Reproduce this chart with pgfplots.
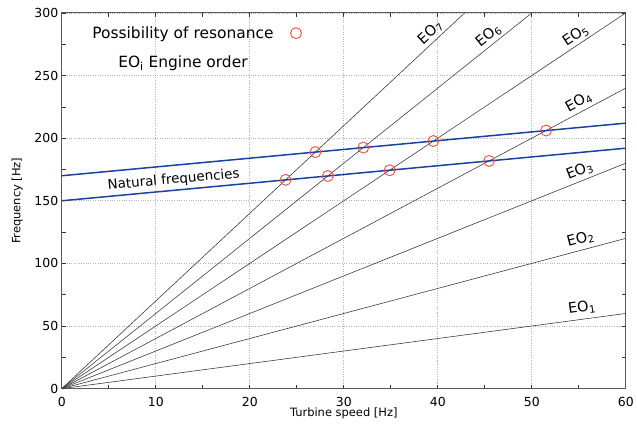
\documentclass[border=0pt]{standalone}
\usepackage{fontspec}
\setmainfont{DejaVu Sans}
\usepackage{pgfplots}
\pgfplotsset{compat=1.18}
\definecolor{natblue}{RGB}{25,65,160}
\definecolor{resred}{RGB}{240,75,65}
\definecolor{eogray}{RGB}{60,60,60}
\tikzset{eolab/.style={sloped, above, text=black, font=\fontsize{14.5}{16}\selectfont}}

\begin{document}
\begin{tikzpicture}
\begin{axis}[
    scale only axis,
    width=566pt, height=377pt,
    xmin=0, xmax=60, ymin=0, ymax=300,
    xtick={0,10,...,60}, ytick={0,50,...,300},
    minor tick num=1,
    tick align=inside,
    tick style={black!80, line width=0.6pt},
    major tick length=4pt, minor tick length=4pt,
    grid=major,
    major grid style={dotted, gray!60, line width=0.6pt},
    axis line style={black!65, line width=1pt},
    /pgf/number format/assume math mode=true,
    ticklabel style={font=\fontsize{12.5}{14}\selectfont},
    xticklabel style={yshift=-5pt},
    xlabel={Turbine speed [Hz]}, ylabel={Frequency [Hz]},
    label style={font=\fontsize{11.5}{13}\selectfont},
    xlabel style={yshift=6pt},
    ylabel style={yshift=5pt},
    legend plot pos=right,
    legend cell align=center,
    legend style={at={(rel axis cs:0.045,0.975)}, anchor=north west,
        draw=none, fill=none, font=\fontsize{15.5}{17}\selectfont,
        row sep=12pt, column sep=12pt},
    clip=true,
]
% engine order lines
\addplot[eogray, line width=0.6pt, forget plot] coordinates {(0,0) (60,60)}
    node[pos=0.925, eolab, inner sep=4.5pt] {EO\textsubscript{1}};
\addplot[eogray, line width=0.6pt, forget plot] coordinates {(0,0) (60,120)}
    node[pos=0.925, eolab, inner sep=4pt] {EO\textsubscript{2}};
\addplot[eogray, line width=0.6pt, forget plot] coordinates {(0,0) (60,180)}
    node[pos=0.925, eolab, inner sep=3pt] {EO\textsubscript{3}};
\addplot[eogray, line width=0.6pt, forget plot] coordinates {(0,0) (60,240)}
    node[pos=0.925, eolab, inner sep=3pt] {EO\textsubscript{4}};
\addplot[eogray, line width=0.6pt, forget plot] coordinates {(0,0) (60,300)}
    node[pos=0.92, eolab, inner sep=2pt] {EO\textsubscript{5}};
\addplot[eogray, line width=0.6pt, forget plot] coordinates {(0,0) (50,300)}
    node[pos=0.92, eolab, inner sep=2pt] {EO\textsubscript{6}};
\addplot[eogray, line width=0.6pt, forget plot] coordinates {(0,0) (42.857,300)}
    node[pos=0.93, eolab, inner sep=2pt] {EO\textsubscript{7}};
% natural frequencies
\addplot[natblue, line width=1.5pt, forget plot] coordinates {(0,150) (60,192)}
    node[pos=0.2, sloped, above, inner sep=3pt, text=black, font=\fontsize{13.5}{15}\selectfont] {Natural frequencies};
\addplot[natblue, line width=1.5pt, forget plot] coordinates {(0,170) (60,212)};
% resonance points
\addplot[only marks, mark=o, mark size=5.5pt, resred, line width=0.9pt] coordinates {
    (23.81,166.7) (28.30,169.8) (34.88,174.4) (45.45,181.8)
    (26.98,188.9) (32.08,192.5) (39.53,197.7) (51.52,206.1)
};
\addlegendentry{Possibility of resonance}
\addlegendimage{empty legend}
\addlegendentry{EO\textsubscript{i} Engine order}
\coordinate (tl) at (rel axis cs:0,1);
\coordinate (br) at (rel axis cs:1,0);
\end{axis}
\path (tl) ++(-62pt,13pt);
\path (br) ++(9pt,-35pt);
\end{tikzpicture}
\end{document}
